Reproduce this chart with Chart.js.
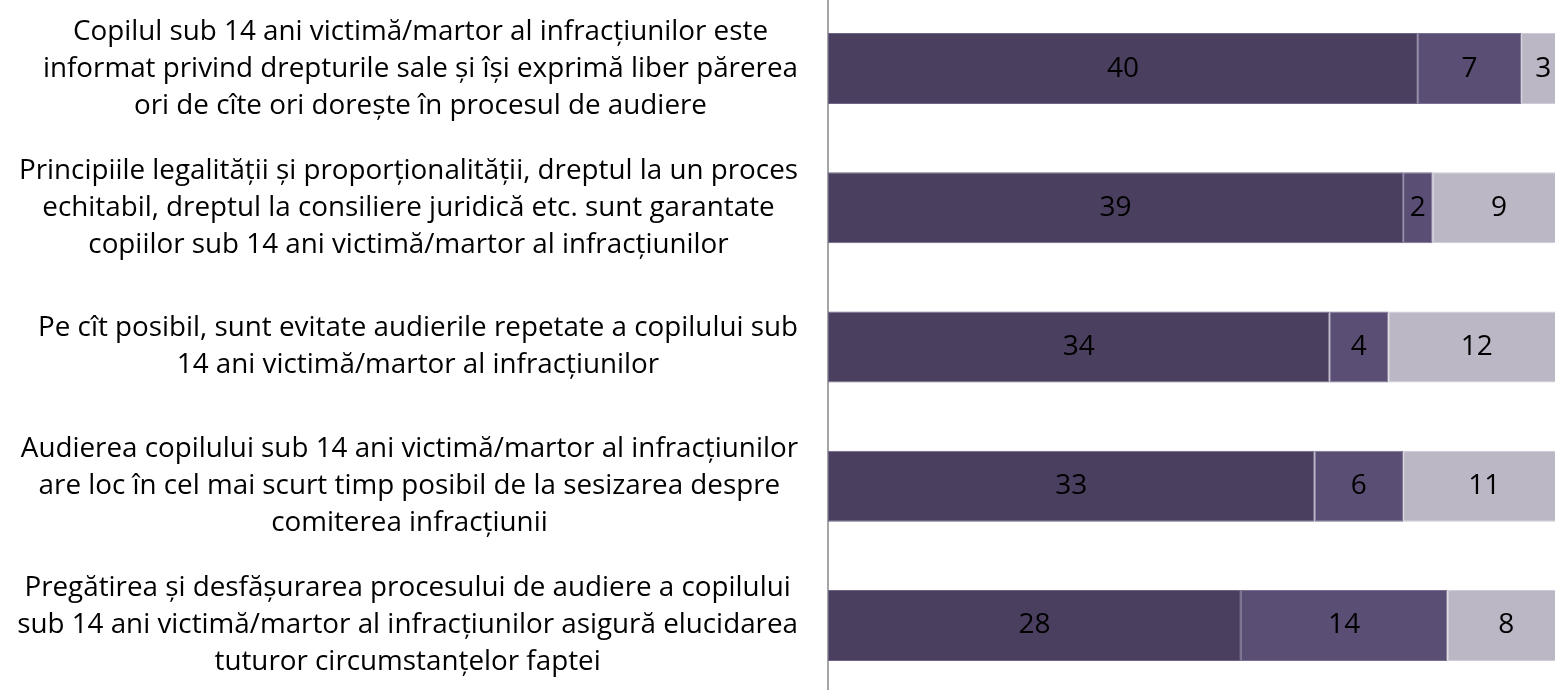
<!DOCTYPE html>
<html lang="ro">
<head>
    <meta charset="UTF-8">
    <title>Audierea copilului</title>
    <script src="https://cdn.jsdelivr.net/npm/chart.js"></script>
    <style>
        html, body { margin: 0; padding: 0; background: #fff; overflow: hidden; }
        .wrap { position: absolute; left: 0; top: -1px; width: 1555px; height: 696px; }
    </style>
</head>
<body>
<div class="wrap"><canvas id="chart"></canvas></div>
<script>
    // categories (each one split into lines as in the original)
    let categories = [
        ["Copilul sub 14 ani victimă/martor al infracțiunilor este", "informat privind drepturile sale şi îşi exprimă liber părerea", "ori de cîte ori doreşte în procesul de audiere"],
        ["Principiile legalității şi proporționalității, dreptul la un proces", "echitabil, dreptul la consiliere juridică etc. sunt garantate", "copiilor sub 14 ani victimă/martor al infracțiunilor"],
        ["Pe cît posibil, sunt evitate audierile repetate a copilului sub", "14 ani victimă/martor al infracțiunilor"],
        ["Audierea copilului sub 14 ani victimă/martor al infracțiunilor", "are loc în cel mai scurt timp posibil de la sesizarea despre", "comiterea infracțiunii"],
        ["Pregătirea şi desfăşurarea procesului de audiere a copilului", "sub 14 ani victimă/martor al infracțiunilor asigură elucidarea", "tuturor circumstanțelor faptei"]
    ];
    let series1 = [40, 39, 34, 33, 28];
    let series2 = [7, 2, 4, 6, 14];
    let series3 = [3, 9, 12, 11, 8];

    const FONT = "'Open Sans', sans-serif";
    const LABEL_SIZE = 27.8;
    const VALUE_SIZE = 28;
    const LABEL_RIGHT = 798;

    // left labels: block right-aligned, lines centred within block
    const leftLabels = {
        id: "leftLabels",
        afterDraw(chart) {
            let ctx = chart.ctx;
            let y = chart.scales.y;
            ctx.save();
            ctx.font = LABEL_SIZE + "px " + FONT;
            ctx.fillStyle = "#000";
            ctx.textAlign = "center";
            ctx.textBaseline = "middle";
            let lh = 37;
            categories.forEach((lines, i) => {
                let maxW = Math.max(...lines.map(l => ctx.measureText(l).width));
                let cx = LABEL_RIGHT - maxW / 2;
                let cy = y.getPixelForValue(i);
                let start = cy - (lines.length - 1) * lh / 2;
                lines.forEach((l, k) => ctx.fillText(l, cx, start + k * lh));
            });
            ctx.restore();
        }
    };

    // values in the middle of each segment
    const segLabels = {
        id: "segLabels",
        afterDatasetsDraw(chart) {
            let ctx = chart.ctx;
            ctx.save();
            ctx.font = VALUE_SIZE + "px " + FONT;
            ctx.fillStyle = "#000";
            ctx.textAlign = "center";
            ctx.textBaseline = "middle";
            chart.data.datasets.forEach((ds, di) => {
                chart.getDatasetMeta(di).data.forEach((bar, i) => {
                    let cx = (bar.x + bar.base) / 2;
                    ctx.fillText(ds.data[i], cx, bar.y);
                });
            });
            ctx.restore();
        }
    };

    new Chart(document.getElementById("chart"), {
        type: "bar",
        data: {
            labels: categories.map(c => c.join(" ")),
            datasets: [
                { data: series1, backgroundColor: "#4b3f60", borderColor: "#6e6486", borderWidth: 1, borderSkipped: false },
                { data: series2, backgroundColor: "#5b4e74", borderColor: "#7a7092", borderWidth: 1, borderSkipped: false },
                { data: series3, backgroundColor: "#bbb7c5", borderColor: "#cfccd7", borderWidth: 1, borderSkipped: false }
            ]
        },
        options: {
            indexAxis: "y",
            responsive: true,
            maintainAspectRatio: false,
            animation: false,
            layout: { padding: 0 },
            plugins: { legend: { display: false }, tooltip: { enabled: false } },
            datasets: { bar: { categoryPercentage: 1, barPercentage: 0.51 } },
            scales: {
                x: { stacked: true, min: 0, max: 49.3, display: false },
                y: {
                    stacked: true,
                    grid: { display: false },
                    border: { display: true, color: "#a6a6a6", width: 2 },
                    ticks: { display: false },
                    afterFit(scale) { scale.width = 828; }
                }
            }
        },
        plugins: [leftLabels, segLabels]
    });
</script>
</body>
</html>
